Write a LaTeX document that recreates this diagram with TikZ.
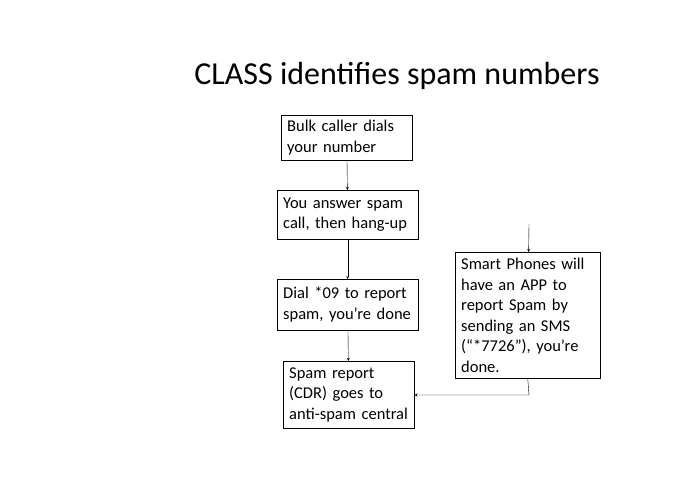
\documentclass[tikz,border=0pt]{standalone}
\usepackage{fontspec}
\setmainfont{Carlito}
\usetikzlibrary{positioning}
\begin{document}
\begin{tikzpicture}[x=1pt,y=-1pt,
	stage/.style={draw,anchor=north west,align=left,inner xsep=6pt,inner ysep=3pt,font=\fontsize{16.5}{20.5}\selectfont},
	flow/.style={->,>=stealth}]

	\useasboundingbox (0,0) rectangle (695,494);

	\node[font=\fontsize{32}{36}\selectfont] (title) at (397,76) {CLASS identifies spam numbers};

	\node[stage,text width=119pt,minimum height=45pt] (dial) at (281,115) {Bulk caller dials\\your number};
	\node[stage,text width=129pt,minimum height=49pt] (answer) at (277,190) {You answer spam\\call, then hang-up};
	\node[stage,text width=129pt,minimum height=51pt] (report) at (277,279) {Dial *09 to report\\spam, you’re done};
	\node[stage,text width=119pt,minimum height=67pt] (cdr) at (283,361) {Spam report\\(CDR) goes to\\anti-spam central};
	\node[stage,text width=133pt,minimum height=126pt] (app) at (455,252) {Smart Phones will\\have an APP to\\report Spam by\\sending an SMS\\(“*7726”), you’re\\done.};

	\coordinate (top) at (529,224);
	\coordinate (bend) at (529,395);

	\draw[flow] (dial) -- (answer);
	\draw[flow] (answer) -- (report);
	\draw[flow] (report) -- (cdr);
	\draw[flow] (top) -- (app);
	\draw[flow] (app.south) -- (bend) -- (cdr.east |- bend);
\end{tikzpicture}
\end{document}
